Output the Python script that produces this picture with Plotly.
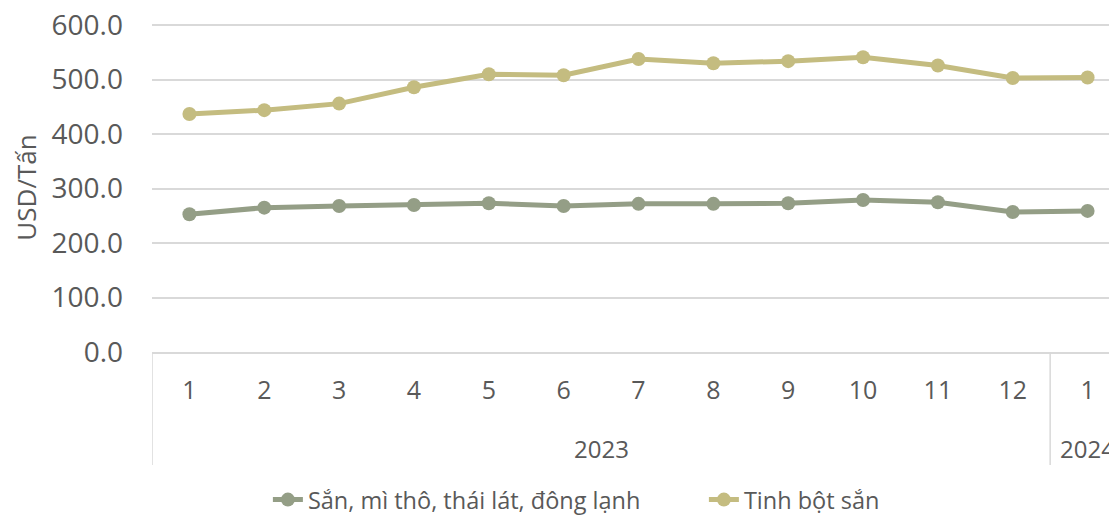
import plotly.graph_objects as go

years = ["2023"] * 12 + ["2024"]
months = ["1", "2", "3", "4", "5", "6", "7", "8", "9", "10", "11", "12", "1"]
san_mi = [253, 265, 268, 270, 273, 268, 272, 272, 273, 279, 275, 257, 259]
tinh_bot = [437, 444, 456, 486, 510, 508, 538, 530, 534, 541, 526, 503, 504]

FONT = "Open Sans, Noto Sans, sans-serif"
TXT = "#595959"
GRID = "#d9d9d9"

idx = list(range(len(months)))

fig = go.Figure()
fig.add_trace(go.Scatter(
    x=idx, y=san_mi, name="Sắn, mì thô, thái lát, đông lạnh",
    mode="lines+markers", line=dict(color="#949e86", width=5),
    marker=dict(size=14, color="#949e86"),
))
fig.add_trace(go.Scatter(
    x=idx, y=tinh_bot, name="Tinh bột sắn",
    mode="lines+markers", line=dict(color="#c4bc80", width=5),
    marker=dict(size=14, color="#c4bc80"),
))

# page body has an 8px margin, so the figure is laid out 8px up/left
T, B, L = 15, 171, 144
H_PLOT = 515 - T - B

# year group labels and dividers
groups = []
for i, yv in enumerate(years):
    if not groups or groups[-1][0] != yv:
        groups.append([yv, i, i])
    else:
        groups[-1][2] = i
for yv, a, b in groups:
    fig.add_annotation(x=(a + b) / 2, y=-96 / H_PLOT, xref="x", yref="paper",
                       text=yv, showarrow=False, font=dict(size=24, color=TXT, family=FONT),
                       yanchor="middle")
    fig.add_shape(type="line", xref="x", yref="paper", x0=a - 0.5, x1=a - 0.5,
                  y0=0, y1=-113 / H_PLOT, line=dict(color=GRID, width=1.5))

fig.update_layout(
    width=1117, height=515,
    margin=dict(l=L, r=0, t=T, b=B),
    paper_bgcolor="white", plot_bgcolor="white",
    font=dict(family=FONT, color=TXT),
    showlegend=True,
    legend=dict(orientation="h", xref="container", x=0.623, xanchor="center",
                yref="container", y=0.045, yanchor="middle",
                font=dict(size=23.5, color=TXT), tracegroupgap=0,
                entrywidth=391, entrywidthmode="pixels"),
)
fig.update_xaxes(
    range=[-0.5, 12.5], tickmode="array", tickvals=idx, ticktext=months,
    showgrid=False, showline=True, linecolor=GRID, linewidth=1.5,
    tickfont=dict(size=25, color=TXT, family=FONT),
    ticks="", ticklabelstandoff=15, automargin=False, zeroline=False,
)
fig.update_yaxes(
    range=[0, 604], tickmode="array", tickvals=[0, 100, 200, 300, 400, 500, 600],
    tickformat=".1f",
    showgrid=True, gridcolor=GRID, gridwidth=1.5,
    zeroline=False, showline=False, ticks="",
    tickfont=dict(size=28, color=TXT, family=FONT),
    ticklabelstandoff=28, automargin=False, ticklabeloverflow="allow",
    title=dict(text="USD/Tấn", font=dict(size=26, color=TXT, family=FONT), standoff=14),
)

fig.write_html("out.html")
